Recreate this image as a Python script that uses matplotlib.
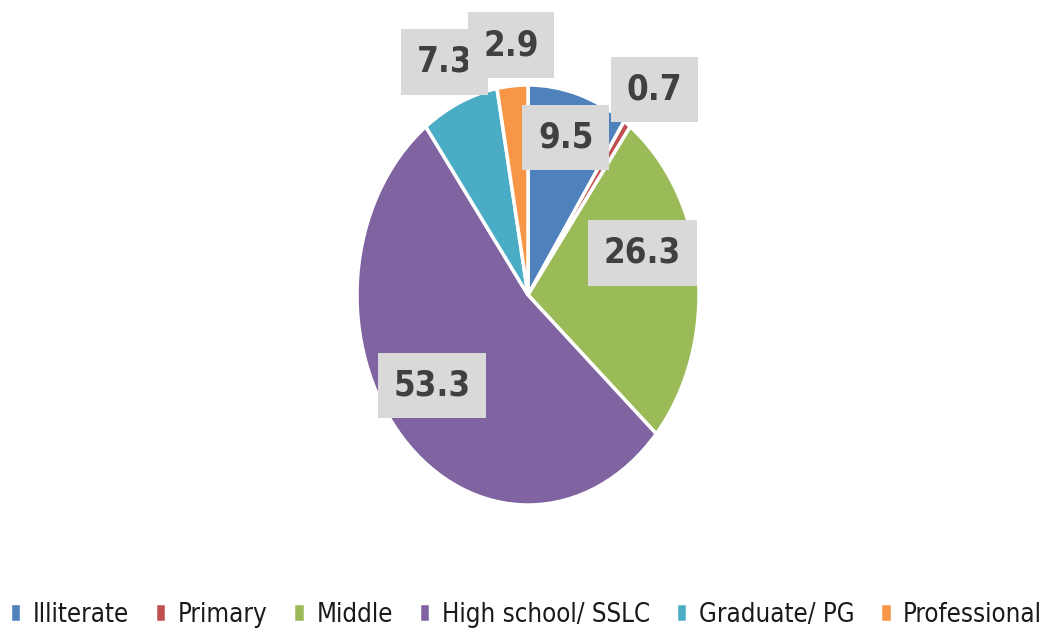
import matplotlib.pyplot as plt
import numpy as np

# data
categories = ["Illiterate", "Primary", "Middle", "High school/ SSLC", "Graduate/ PG", "Professional"]
values = [9.5, 0.7, 26.3, 53.3, 7.3, 2.9]
colors = ["#4F81BD", "#C0504D", "#9BBB59", "#8064A2", "#4BACC6", "#F79646"]

# label box centres, in units of the pie radius (x, y)
label_pos = [(0.22, 0.75), (0.74, 0.98), (0.67, 0.20), (-0.56, -0.43), (-0.49, 1.11), (-0.10, 1.19)]

W, H = 1052, 635
cx, cy = 528, 295      # pie centre in pixels (from top-left)
rx, ry = 171, 210      # pie radii in pixels

fig = plt.figure(figsize=(W / 100, H / 100), dpi=100)
ax = fig.add_axes([0, 0, 1, 1])

wedges, _ = ax.pie(values, colors=colors, startangle=90, counterclock=False,
                   wedgeprops=dict(edgecolor="white", linewidth=2.5))
ax.set_aspect("auto")
ax.set_xlim(-cx / rx, (W - cx) / rx)
ax.set_ylim(-(H - cy) / ry, cy / ry)
ax.axis("off")

for v, (x, y) in zip(values, label_pos):
    ax.text(x, y, f"{v:.1f}", ha="center", va="center", fontsize=25, fontweight="bold",
            color="#404040", family="DejaVu Sans", fontstretch="condensed",
            bbox=dict(boxstyle="square,pad=0.45", facecolor="#D9D9D9", edgecolor="none"))

fig.legend(wedges, categories, loc="lower center", bbox_to_anchor=(0.5, -0.025), ncol=6,
           frameon=False, prop=dict(family="DejaVu Sans", stretch="condensed", size=18.5),
           labelcolor="#1a1a1a",
           handlelength=0.45, handleheight=0.75, handletextpad=0.45, columnspacing=1.0)

fig.savefig("out.png", dpi=100)
